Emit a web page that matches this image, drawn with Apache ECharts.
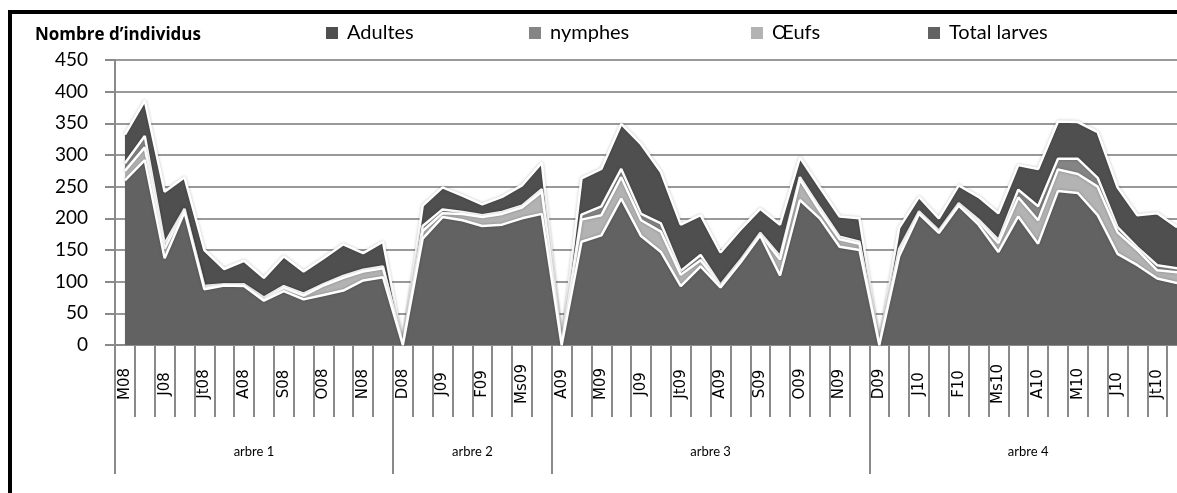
<!DOCTYPE html>
<html>
<head>
<meta charset="utf-8">
<title>Nombre d'individus</title>
<script src="https://cdn.jsdelivr.net/npm/echarts@6/dist/echarts.min.js"></script>
<style>
  html, body { margin: 0; padding: 0; background: #fff; overflow: hidden; }
  #main { width: 1177px; height: 493px; }
</style>
</head>
<body>
<div id="main"></div>
<script>
// mois de prélèvement (2 par mois, une étiquette sur deux affichée)
var mois = [
  'M08', 'M08', 'J08', 'J08', 'Jt08', 'Jt08', 'A08', 'A08', 'S08', 'S08', 'O08', 'O08', 'N08', 'N08',
  'D08', 'D08', 'J09', 'J09', 'F09', 'F09', 'Ms09', 'Ms09',
  'A09', 'A09', 'M09', 'M09', 'J09', 'J09', 'Jt09', 'Jt09', 'A09', 'A09', 'S09', 'S09', 'O09', 'O09', 'N09', 'N09',
  'D09', 'D09', 'J10', 'J10', 'F10', 'F10', 'Ms10', 'Ms10', 'A10', 'A10', 'M10', 'M10', 'J10', 'J10', 'Jt10', 'Jt10'
];
var arbres = ['arbre 1', 'arbre 2', 'arbre 3', 'arbre 4'];
var nbMois = [14, 8, 16, 16];

var totalLarves = [
  260, 292, 137, 210, 88, 94, 93, 70, 85, 72, 79, 86, 102, 107,
  0, 168, 202, 197, 188, 190, 200, 207,
  0, 163, 173, 231, 172, 147, 93, 124, 91, 130, 173, 110, 229, 200, 155, 150,
  0, 140, 207, 177, 220, 190, 147, 203, 160, 243, 240, 205, 144, 126, 105, 98
];
var oeufs = [
  15, 20, 15, 3, 2, 1, 1, 2, 5, 6, 15, 20, 14, 14,
  0, 12, 6, 10, 14, 17, 17, 35,
  0, 35, 32, 34, 25, 32, 18, 10, 2, 2, 2, 25, 32, 12, 12, 10,
  0, 8, 2, 2, 2, 5, 14, 30, 37, 34, 30, 45, 34, 24, 13, 17
];
var nymphes = [
  12, 18, 8, 2, 3, 1, 2, 3, 3, 3, 2, 3, 3, 3,
  0, 8, 6, 3, 3, 3, 3, 4,
  0, 8, 14, 13, 10, 13, 6, 8, 2, 2, 2, 5, 4, 5, 4, 3,
  0, 4, 2, 2, 2, 3, 5, 12, 22, 17, 24, 14, 8, 4, 8, 6
];
var adultes = [
  45, 56, 82, 50, 57, 24, 37, 31, 47, 35, 41, 50, 26, 39,
  0, 32, 35, 26, 17, 24, 32, 42,
  0, 57, 59, 71, 110, 81, 73, 63, 51, 48, 38, 50, 31, 32, 32, 37,
  0, 33, 23, 19, 28, 36, 42, 39, 59, 59, 58, 72, 63, 51, 82, 65
];

var yMin = 0, yMax = 450, yPas = 50;

// axe des arbres : bornes et milieux des groupes
var centres = {};
var bornes = {};
var arbreAxe = [];
var pos = 0;
bornes[0] = true;
for (var g = 0; g < arbres.length; g++) {
  centres[pos + nbMois[g] / 2] = arbres[g];
  pos += nbMois[g];
  bornes[pos] = true;
}
for (var i = 0; i <= pos; i++) {
  arbreAxe.push('p' + i);
}

var grisAxe = '#8a8a8a';

function serie(nom, data, couleur, z) {
  return {
    name: nom,
    type: 'line',
    stack: 'total',
    data: data,
    z: z,
    showSymbol: false,
    symbol: 'none',
    lineStyle: {
      color: '#ffffff',
      width: 2.5,
      shadowColor: 'rgba(0,0,0,0.25)',
      shadowBlur: 3
    },
    areaStyle: { color: couleur, opacity: 1 },
    itemStyle: { color: couleur },
    emphasis: { disabled: true }
  };
}

function legende(nom, x) {
  return {
    data: [nom],
    left: x,
    top: 18,
    icon: 'rect',
    itemWidth: 12,
    itemHeight: 12,
    textStyle: {
      fontFamily: 'Lato',
      fontSize: 20,
      color: '#000',
      padding: [0, 0, 0, 4]
    }
  };
}

var chart = echarts.init(document.getElementById('main'), null, { renderer: 'canvas' });

var option = {
  animation: false,
  backgroundColor: '#fff',
  title: {
    text: 'Nombre d\u2019individus',
    left: 30,
    top: 22,
    textStyle: { fontFamily: 'Open Sans', fontWeight: 'bold', fontSize: 17, color: '#000' }
  },
  legend: [
    legende('Adultes', 321),
    legende('nymphes', 524),
    legende('\u0152ufs', 746),
    legende('Total larves', 923)
  ],
  graphic: [{
    type: 'rect',
    shape: { x: 10, y: 12, width: 1400, height: 700 },
    style: { fill: 'none', stroke: '#000', lineWidth: 4 },
    silent: true
  }],
  grid: {
    left: 115,
    top: 60,
    width: 1072,
    bottom: 148,
    containLabel: false,
    outerBoundsMode: 'none'
  },
  xAxis: [{
    type: 'category',
    position: 'bottom',
    data: mois,
    boundaryGap: true,
    axisLine: { show: true, lineStyle: { color: grisAxe, width: 2 } },
    axisTick: { show: true, interval: 0, length: 72, lineStyle: { color: grisAxe, width: 2 } },
    axisLabel: {
      interval: 1,
      rotate: 90,
      align: 'center',
      verticalAlign: 'middle',
      margin: 39,
      fontFamily: 'DejaVu Sans',
      fontSize: 15,
      color: '#000'
    },
    splitLine: { show: false }
  }, {
    type: 'category',
    position: 'bottom',
    data: arbreAxe,
    boundaryGap: false,
    axisLine: { show: false },
    axisTick: {
      show: true,
      length: 129,
      interval: function (idx) { return !!bornes[idx]; },
      lineStyle: { color: grisAxe, width: 2 }
    },
    axisLabel: {
      interval: function (idx) { return !!centres[idx]; },
      formatter: function (v, idx) { return centres[idx] || ''; },
      margin: 100,
      fontFamily: 'Lato',
      fontSize: 13,
      color: '#000'
    },
    splitLine: { show: false }
  }],
  yAxis: {
    type: 'value',
    min: yMin,
    max: yMax,
    interval: yPas,
    axisLine: { show: true, lineStyle: { color: grisAxe, width: 2 } },
    axisTick: { show: true, length: 10, lineStyle: { color: grisAxe, width: 2 } },
    axisLabel: {
      margin: 27,
      fontFamily: 'Lato',
      fontSize: 19,
      color: '#000'
    },
    splitLine: { show: true, lineStyle: { color: '#999999', width: 2 } }
  },
  series: [
    serie('Total larves', totalLarves, '#626262', 6),
    serie('\u0152ufs', oeufs, '#b3b3b3', 5),
    serie('nymphes', nymphes, '#858585', 4),
    serie('Adultes', adultes, '#4f4f4f', 3)
  ]
};

chart.setOption(option);
</script>
</body>
</html>
